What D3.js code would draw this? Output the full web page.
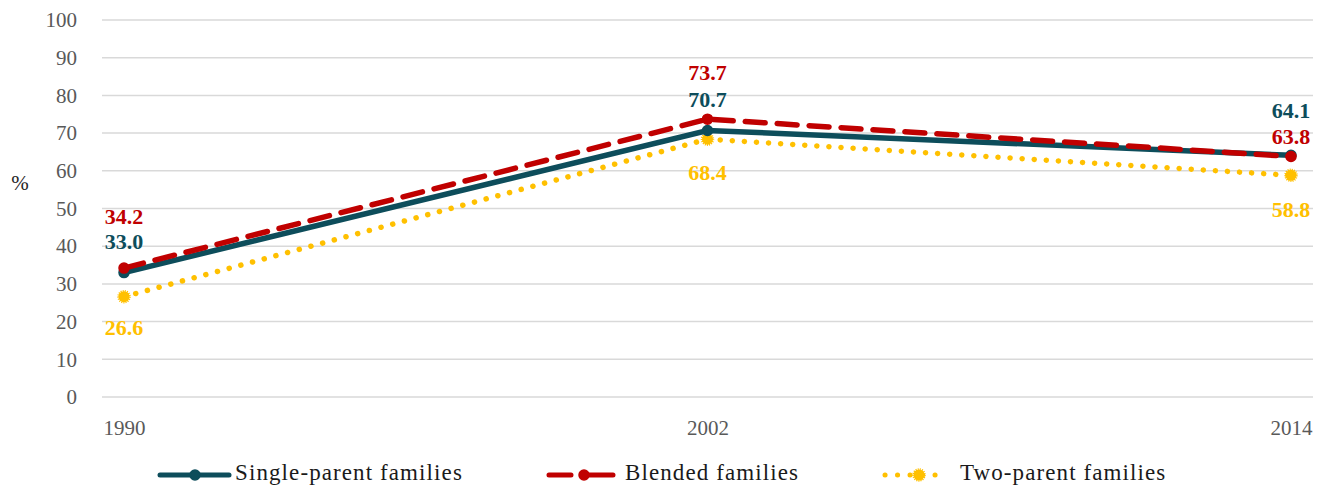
<!DOCTYPE html>
<html>
<head>
<meta charset="utf-8">
<script src="https://cdn.jsdelivr.net/npm/d3@7"></script>
<style>
  body { margin: 0; background: #fff; }
  text { font-family: "Liberation Serif", "DejaVu Serif", serif; }
</style>
</head>
<body>
<div class="chart"></div>
<script>
const years = ["1990", "2002", "2014"];
const singleParent = [33.0, 70.7, 64.1];
const blended = [34.2, 73.7, 63.8];
const twoParent = [26.6, 68.4, 58.8];
const yTicks = [0, 10, 20, 30, 40, 50, 60, 70, 80, 90, 100];

const series = [
    { name: "Single-parent families", values: singleParent, color: "#0d4d5b", dash: null, legendDash: null },
    { name: "Blended families", values: blended, color: "#c00000", dash: "20,12", legendDash: "22,11,32" },
    { name: "Two-parent families", values: twoParent, color: "#ffc000", dash: "0.1,12", legendDash: "0.1,12.4" }
];
// label offsets from the point, per series and year
const labelOffsets = [[-29, -29, -42], [-49, -44, -18], [33, 36, 37]];

let svgW = 1327,
    svgH = 494,
    gridLeft = 102,
    gridRight = 1313;

const svg = d3.select(".chart")
    .append("svg")
    .attr("width", svgW)
    .attr("height", svgH);

const x = d3.scalePoint().domain(years).range([124, 1291]);
const y = d3.scaleLinear().domain([0, 100]).range([397, 20]);

// grid lines
svg.selectAll("line.grid")
    .data(yTicks)
    .enter()
    .append("line")
    .attr("class", "grid")
    .attr("x1", gridLeft)
    .attr("x2", gridRight)
    .attr("y1", d => y(d))
    .attr("y2", d => y(d))
    .attr("stroke", "#d9d9d9")
    .attr("stroke-width", 1.5);

// y axis labels
const yAxis = svg.append("g")
    .attr("transform", "translate(77,0)")
    .call(d3.axisLeft(y).tickValues(yTicks).tickSize(0).tickPadding(0));
yAxis.select(".domain").remove();
yAxis.selectAll("text")
    .attr("font-size", 21)
    .attr("fill", "#595959")
    .style("font-family", "'Liberation Serif', serif");

// x axis labels
const xAxis = svg.append("g")
    .attr("transform", "translate(0,420)")
    .call(d3.axisBottom(x).tickSize(0).tickPadding(0));
xAxis.select(".domain").remove();
xAxis.selectAll("text")
    .attr("font-size", 21)
    .attr("fill", "#595959")
    .style("font-family", "'Liberation Serif', serif");

svg.append("text")
    .attr("x", 20)
    .attr("y", 185)
    .attr("text-anchor", "middle")
    .attr("dominant-baseline", "middle")
    .attr("font-size", 21)
    .attr("fill", "#262626")
    .text("%");

const line = d3.line()
    .x((d, i) => x(years[i]))
    .y(d => y(d));

function marker(sel, s) {
    const isDot = s === series[2];
    sel.attr("r", isDot ? 5.5 : 5)
        .attr("fill", s.color)
        .attr("stroke", s.color)
        .attr("stroke-width", isDot ? 2.5 : 1.5)
        .attr("stroke-dasharray", isDot ? "1,1" : null);
}

// draw in order: yellow, teal, red on top
[series[2], series[0], series[1]].forEach(s => {
    svg.append("path")
        .datum(s.values)
        .attr("d", line)
        .attr("fill", "none")
        .attr("stroke", s.color)
        .attr("stroke-width", 5.5)
        .attr("stroke-linecap", s.dash ? "round" : "butt")
        .attr("stroke-dasharray", s.dash);

    svg.selectAll(null)
        .data(s.values)
        .enter()
        .append("circle")
        .attr("cx", (d, i) => x(years[i]))
        .attr("cy", d => y(d))
        .call(marker, s);
});

// data labels
series.forEach((s, si) => {
    svg.selectAll(null)
        .data(s.values)
        .enter()
        .append("text")
        .attr("x", (d, i) => x(years[i]))
        .attr("y", (d, i) => y(d) + labelOffsets[si][i])
        .attr("text-anchor", "middle")
        .attr("dominant-baseline", "middle")
        .attr("font-size", 22)
        .attr("font-weight", "bold")
        .attr("fill", s.color)
        .text(d => d.toFixed(1));
});

// legend
const legendItems = [
    { s: series[0], x1: 160, x2: 229, mx: 195, tx: 235 },
    { s: series[1], x1: 549, x2: 613, mx: 584, tx: 625 },
    { s: series[2], x1: 885, x2: 947, mx: 919, tx: 960 }
];
const legendY = 475;
legendItems.forEach(it => {
    const g = svg.append("g");
    g.append("line")
        .attr("x1", it.x1)
        .attr("x2", it.x2)
        .attr("y1", legendY)
        .attr("y2", legendY)
        .attr("stroke", it.s.color)
        .attr("stroke-width", 5)
        .attr("stroke-linecap", "round")
        .attr("stroke-dasharray", it.s.legendDash);
    g.append("circle")
        .attr("cx", it.mx)
        .attr("cy", legendY)
        .call(marker, it.s);
    g.append("text")
        .attr("x", it.tx)
        .attr("y", legendY)
        .attr("dominant-baseline", "middle")
        .attr("font-size", 23)
        .attr("letter-spacing", 1.1)
        .attr("fill", "#1a1a1a")
        .text(it.s.name);
});
</script>
</body>
</html>
